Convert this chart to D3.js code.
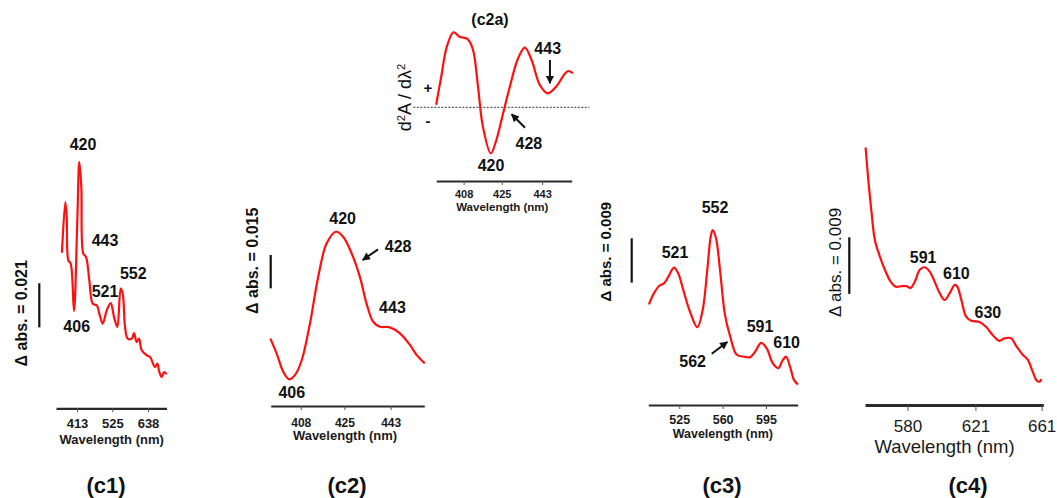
<!DOCTYPE html>
<html><head><meta charset="utf-8">
<script src="https://cdn.jsdelivr.net/npm/d3@7"></script>
<style>html,body{margin:0;padding:0;background:#fff;} svg{display:block;font-family:"Liberation Sans",Arial,Helvetica,sans-serif;}</style>
</head><body>
<svg id="chart" width="1057" height="498"></svg>
<script>
// ---------- DATA (wavelength in nm, Δ absorbance in 10^-3 units) ----------
const c1Wavelength = [365.5, 376.0, 380.4, 385.5, 393.1, 403.5, 414.0, 420.3, 426.7, 433.0, 441.6, 452.0, 462.8, 475.5, 483.7, 494.5, 507.2, 519.8, 530.3, 540.8, 551.5, 557.9, 565.2, 573.7, 586.4, 593.7, 602.2, 609.5, 618.1, 633.9, 644.4, 660.2, 667.5, 673.9, 681.5, 688.8, 695.1];
const c1Abs = [74.6, 98.4, 91.3, 70.6, 69.0, 46.4, 89.7, 117.5, 105.6, 73.8, 72.2, 61.1, 49.9, 49.1, 45.2, 40.4, 46.7, 50.2, 43.6, 38.8, 57.1, 54.7, 38.8, 33.2, 33.2, 35.9, 31.6, 33.2, 27.7, 25.3, 24.5, 19.7, 21.3, 17.3, 14.9, 17.3, 16.6];
const c1Ticks = [413, 525, 638];

const c2Wavelength = [396.3, 398.6, 401.2, 403.5, 405.8, 408.4, 411.6, 414.8, 418.1, 421.7, 424.5, 427.8, 431.0, 433.6, 436.2, 438.8, 442.7, 446.6, 450.5, 453.1, 456.0];
const c2Abs = [30.0, 23.7, 15.4, 12.0, 14.0, 20.7, 37.2, 58.2, 73.2, 78.4, 76.2, 68.7, 58.2, 46.2, 37.9, 35.7, 35.4, 32.7, 27.5, 23.0, 19.5];
const c2Ticks = [408, 425, 443];

const c2aWavelength = [395.8, 398.0, 400.5, 403.5, 406.2, 409.9, 412.2, 414.4, 416.6, 420.1, 422.6, 425.6, 428.6, 432.3, 435.3, 438.3, 442.0, 445.5, 449.5, 452.7, 454.6, 456.4];
const c2aSecondDeriv = [0.33, 3.06, 6.06, 7.5, 7.06, 6.8, 5.73, 2.06, -1.94, -4.6, -3.27, -0.6, 2.06, 4.9, 5.96, 4.73, 2.23, 1.4, 2.13, 3.23, 3.63, 3.46];
const c2aTicks = [408, 425, 443];

const c3Wavelength = [500.8, 504.6, 508.9, 512.7, 516.1, 520.8, 524.2, 528.3, 533.7, 539.6, 543.9, 547.6, 550.4, 552.0, 554.7, 557.9, 561.9, 566.1, 571.4, 577.3, 582.2, 586.2, 591.0, 595.6, 600.4, 605.0, 608.5, 611.2, 614.4, 617.6, 620.3];
const c3Abs = [20.6, 22.7, 24.2, 24.7, 26.0, 27.9, 26.7, 23.3, 18.9, 15.8, 19.3, 27.4, 34.2, 35.5, 33.8, 27.4, 18.3, 13.9, 10.2, 9.8, 9.7, 10.8, 12.6, 11.5, 8.5, 7.5, 9.1, 9.8, 7.8, 5.1, 4.3];
const c3Ticks = [525, 560, 595];

const c4Wavelength = [554.7, 556.3, 558.3, 560.3, 563.3, 566.3, 569.8, 572.9, 576.4, 579.4, 581.8, 584.4, 587.4, 590.4, 593.4, 596.4, 599.4, 602.4, 605.5, 608.5, 610.1, 612.5, 615.5, 618.5, 623.5, 627.5, 631.5, 635.5, 638.5, 642.6, 645.6, 649.6, 652.6, 655.6, 658.0, 659.6, 660.6];
const c4Abs = [40.8, 35.8, 30.5, 26.2, 23.6, 21.5, 19.6, 18.8, 18.9, 18.9, 18.6, 19.6, 21.5, 21.9, 21.2, 19.6, 17.8, 16.7, 17.8, 19.1, 18.8, 16.7, 14.0, 13.4, 13.2, 12.4, 11.1, 10.2, 10.6, 10.6, 9.4, 8.0, 7.2, 5.3, 3.9, 3.7, 4.0];
const c4Ticks = [580, 621, 661];

// Peak annotations: [text, wavelength, value] (label baseline anchor in data units)
const c1Labels = [["420", 432.1, 123.2], ["443", 501.8, 77.4], ["521", 501.8, 52.9], ["552", 591.5, 61.5], ["406", 412.1, 36.4]];
const c2Labels = [["420", 424.3, 82.1], ["428", 445.9, 69.4], ["443", 443.7, 41.7], ["406", 404.5, 3.5]];
const c2aLabels = [["443", 445.5, 5.33], ["428", 437.1, -4.17], ["420", 420.2, -6.34]];
const c3Labels = [["552", 553.9, 38.9], ["521", 521.6, 29.8], ["591", 590.2, 14.8], ["610", 611.7, 11.5], ["562", 535.8, 7.8]];
const c4Labels = [["591", 589.4, 22.5], ["610", 609.5, 20.1], ["630", 628.5, 13.9]];

// Arrows: [tailWavelength, tailValue, headWavelength, headValue]
const c2Arrows = [[438.1, 70.5, 432.1, 65.7]];
const c2aArrows = [[446.5, 4.73, 446.5, 2.4], [435.4, -2.04, 429.4, -0.7]];
const c3Arrows = [[551.2, 10.4, 563.8, 12.8]];

// Scale bar sizes (10^-3 abs)
const c1Bar = 21, c2Bar = 15, c3Bar = 9, c4Bar = 9;

// ---------- DRAWING ----------
const svg = d3.select("#chart");
svg.append("rect").attr("width", 1057).attr("height", 498).attr("fill", "#fff");
const defs = svg.append("defs");
defs.append("marker").attr("id", "ah").attr("viewBox", "0 0 10 10")
  .attr("refX", 9).attr("refY", 5).attr("markerWidth", 9).attr("markerHeight", 8)
  .attr("markerUnits", "userSpaceOnUse").attr("orient", "auto")
  .append("path").attr("d", "M0,0L10,5L0,10z").attr("fill", "#111");

function panel(cfg) {
  const x = d3.scaleLinear().domain(cfg.xDomain).range(cfg.xRange);
  const y = d3.scaleLinear().domain(cfg.yDomain).range(cfg.yRange);
  const g = svg.append("g");

  // x axis
  const axis = d3.axisBottom(x).tickValues(cfg.ticks).tickSize(cfg.tickSize)
    .tickSizeOuter(0).tickFormat(d3.format("d"));
  const ag = g.append("g").attr("transform", `translate(0,${cfg.axisY})`).call(axis);
  ag.select(".domain").attr("stroke", "#2a2a2a").attr("stroke-width", cfg.axisWidth);
  ag.selectAll(".tick line").attr("stroke", "#555").attr("stroke-width", 1);
  ag.selectAll(".tick text").attr("fill", "#1a1a1a").attr("font-size", cfg.tickFont)
    .attr("font-weight", cfg.tickWeight).attr("font-family", null)
    .attr("y", cfg.tickBaseline - cfg.axisY).attr("dy", 0);
  g.append("text").attr("x", cfg.titleX).attr("y", cfg.titleBaseline)
    .attr("text-anchor", "middle").attr("font-size", cfg.titleFont)
    .attr("font-weight", cfg.tickWeight).attr("fill", "#1a1a1a").text("Wavelength (nm)");

  // zero line (derivative inset)
  if (cfg.zeroLine) {
    g.append("line").attr("x1", cfg.zeroLine[0]).attr("x2", cfg.zeroLine[1])
      .attr("y1", y(0)).attr("y2", y(0)).attr("stroke", "#333").attr("stroke-width", 1)
      .attr("stroke-dasharray", "2,1.5");
  }

  // curve
  const line = d3.line().x(d => x(d[0])).y(d => y(d[1])).curve(d3.curveCatmullRom.alpha(0.5));
  g.append("path").datum(d3.zip(cfg.xs, cfg.ys)).attr("d", line)
    .attr("fill", "none").attr("stroke", "#ff1010").attr("stroke-width", 2.2)
    .attr("stroke-linejoin", "round").attr("stroke-linecap", "round");

  // scale bar
  if (cfg.bar) {
    const h = y(0) - y(cfg.bar);
    g.append("line").attr("x1", cfg.barX).attr("x2", cfg.barX)
      .attr("y1", cfg.barTop).attr("y2", cfg.barTop + h)
      .attr("stroke", "#111").attr("stroke-width", 2.2);
  }

  // y title
  const yt = g.append("text").attr("transform", `translate(${cfg.yTitleX},${cfg.yTitleY}) rotate(-90)`)
    .attr("text-anchor", "middle").attr("dy", "0.35em").attr("font-size", cfg.yTitleFont)
    .attr("font-weight", cfg.yTitleWeight).attr("fill", "#111");
  if (cfg.deriv) {
    yt.append("tspan").text("d");
    yt.append("tspan").attr("baseline-shift", "super").attr("font-size", "62%").text("2");
    yt.append("tspan").text("A / d\u03bb");
    yt.append("tspan").attr("baseline-shift", "super").attr("font-size", "62%").text("2");
  } else {
    yt.text(cfg.yTitle);
  }

  // peak labels
  g.selectAll("text.peak").data(cfg.labels).join("text").attr("class", "peak")
    .attr("x", d => x(d[1])).attr("y", d => y(d[2])).attr("text-anchor", "middle")
    .attr("font-size", cfg.labelFont).attr("font-weight", "bold").attr("fill", "#111")
    .text(d => d[0]);

  // arrows
  g.selectAll("line.arrow").data(cfg.arrows || []).join("line").attr("class", "arrow")
    .attr("x1", d => x(d[0])).attr("y1", d => y(d[1]))
    .attr("x2", d => x(d[2])).attr("y2", d => y(d[3]))
    .attr("stroke", "#111").attr("stroke-width", 2).attr("marker-end", "url(#ah)");

  return { g, x, y };
}

panel({
  xs: c1Wavelength, ys: c1Abs, ticks: c1Ticks, labels: c1Labels,
  xDomain: [346.5, 696.6], xRange: [56, 166.5], yDomain: [0, 100], yRange: [408.3, 408.3 - 100 / 0.477],
  axisY: 408.3, axisWidth: 2.2, tickSize: 4, tickFont: 13, tickWeight: "bold", tickBaseline: 428.5,
  titleX: 111.7, titleBaseline: 444, titleFont: 13,
  bar: c1Bar, barX: 39.3, barTop: 283.3,
  yTitle: "\u0394 abs. = 0.021", yTitleX: 21, yTitleY: 313.3, yTitleFont: 16, yTitleWeight: "bold",
  labelFont: 16
});

panel({
  xs: c2Wavelength, ys: c2Abs, ticks: c2Ticks, labels: c2Labels, arrows: c2Arrows,
  xDomain: [396.3, 456.1], xRange: [270.7, 424.3], yDomain: [0, 100], yRange: [406, 406 - 100 / 0.45],
  axisY: 406, axisWidth: 2, tickSize: 4, tickFont: 12, tickWeight: "bold", tickBaseline: 426.5,
  titleX: 345, titleBaseline: 439.5, titleFont: 13,
  bar: c2Bar, barX: 270.7, barTop: 255,
  yTitle: "\u0394 abs. = 0.015", yTitleX: 252.5, yTitleY: 260.8, yTitleFont: 16, yTitleWeight: "bold",
  labelFont: 16
});

const inset = panel({
  xs: c2aWavelength, ys: c2aSecondDeriv, ticks: c2aTicks, labels: c2aLabels, arrows: c2aArrows,
  xDomain: [395.8, 456.2], xRange: [436.3, 571.7], yDomain: [0, 10], yRange: [107.3, 7.3],
  axisY: 181, axisWidth: 2, tickSize: 4, tickFont: 11, tickWeight: "bold", tickBaseline: 198.3,
  titleX: 502.3, titleBaseline: 210.5, titleFont: 11.5,
  zeroLine: [413.3, 589.3], deriv: true,
  yTitleX: 405, yTitleY: 97.5, yTitleFont: 18, yTitleWeight: "normal",
  labelFont: 16
});
inset.g.append("text").attr("x", 428).attr("y", inset.y(0) - 14.5).attr("text-anchor", "middle")
  .attr("font-size", 15).attr("font-weight", "bold").attr("fill", "#111").text("+");
inset.g.append("text").attr("x", 428).attr("y", inset.y(0) + 19).attr("text-anchor", "middle")
  .attr("font-size", 15).attr("font-weight", "bold").attr("fill", "#111").text("-");
inset.g.append("text").attr("x", 490).attr("y", 24.5).attr("text-anchor", "middle")
  .attr("font-size", 16).attr("font-weight", "bold").attr("fill", "#111").text("(c2a)");

panel({
  xs: c3Wavelength, ys: c3Abs, ticks: c3Ticks, labels: c3Labels, arrows: c3Arrows,
  xDomain: [500, 620.6], xRange: [648.3, 797.7], yDomain: [0, 100], yRange: [405, 405 - 100 / 0.203],
  axisY: 405, axisWidth: 2, tickSize: 4, tickFont: 12.5, tickWeight: "bold", tickBaseline: 424.3,
  titleX: 722.8, titleBaseline: 437.5, titleFont: 12.5,
  bar: c3Bar, barX: 631.7, barTop: 238.3,
  yTitle: "\u0394 abs. = 0.009", yTitleX: 606, yTitleY: 251.7, yTitleFont: 15, yTitleWeight: "bold",
  labelFont: 16
});

panel({
  xs: c4Wavelength, ys: c4Abs, ticks: c4Ticks, labels: c4Labels,
  xDomain: [554.3, 662], xRange: [865, 1043.3], yDomain: [0, 100], yRange: [405, 405 - 100 / 0.159],
  axisY: 405, axisWidth: 3, tickSize: 6, tickFont: 17, tickWeight: "normal", tickBaseline: 431.7,
  titleX: 944.5, titleBaseline: 453, titleFont: 18.5,
  bar: c4Bar, barX: 849.3, barTop: 237.3,
  yTitle: "\u0394 abs. = 0.009", yTitleX: 835, yTitleY: 262.5, yTitleFont: 17, yTitleWeight: "normal",
  labelFont: 16
});

// panel captions
const captions = [["(c1)", 106], ["(c2)", 347], ["(c3)", 722], ["(c4)", 968]];
svg.selectAll("text.cap").data(captions).join("text").attr("class", "cap")
  .attr("x", d => d[1]).attr("y", 493).attr("text-anchor", "middle")
  .attr("font-size", 22).attr("font-weight", "bold").attr("fill", "#111").text(d => d[0]);
</script>
</body></html>
